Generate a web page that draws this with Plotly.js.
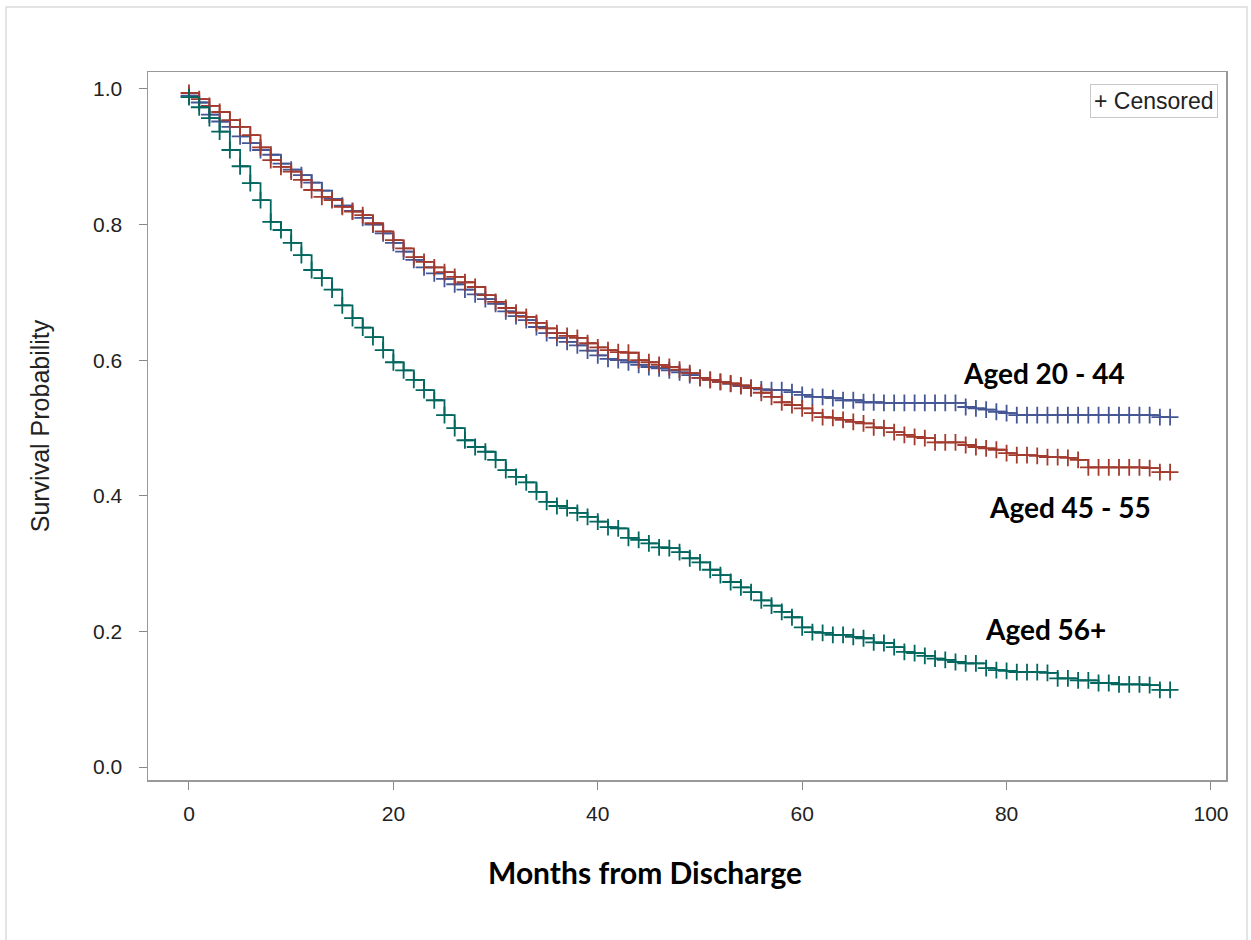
<!DOCTYPE html>
<html>
<head>
<meta charset="utf-8">
<script src="https://cdn.plot.ly/plotly-3.0.1.min.js"></script>
<style>html,body{margin:0;padding:0;background:#fff;}#chart{width:1251px;height:940px;}</style>
</head>
<body>
<div id="chart"></div>
<script>
// Months from discharge (step times)
const months = [0,1,2,3,4,5,6,7,8,9,10,11,12,13,14,15,16,17,18,19,20,21,22,23,24,25,26,27,28,29,30,31,32,33,34,35,36,37,38,39,40,41,42,43,44,45,46,47,48,49,50,51,52,53,54,55,56,57,58,59,60,61,62,63,64,65,66,67,68,69,70,71,72,73,74,75,76,77,78,79,80,81,82,83,84,85,86,87,88,89,90,91,92,93,94,95,96];

const seriesNames = ["Aged 20 - 44", "Aged 45 - 55", "Aged 56+"];

const surv2044 = [0.99,0.98,0.962,0.952,0.944,0.93,0.92,0.91,0.903,0.89,0.881,0.873,0.862,0.85,0.838,0.828,0.82,0.81,0.80,0.787,0.773,0.76,0.748,0.737,0.728,0.72,0.712,0.704,0.697,0.69,0.683,0.672,0.665,0.659,0.649,0.64,0.633,0.627,0.622,0.614,0.607,0.602,0.60,0.597,0.593,0.59,0.588,0.585,0.582,0.578,0.574,0.571,0.568,0.565,0.562,0.559,0.557,0.556,0.556,0.553,0.549,0.546,0.546,0.544,0.541,0.541,0.538,0.538,0.537,0.537,0.537,0.537,0.537,0.537,0.537,0.537,0.531,0.529,0.527,0.524,0.522,0.519,0.519,0.519,0.519,0.519,0.519,0.519,0.519,0.519,0.519,0.519,0.519,0.519,0.519,0.516,0.516];

const surv4555 = [0.994,0.985,0.975,0.966,0.954,0.944,0.932,0.914,0.895,0.885,0.878,0.866,0.851,0.841,0.836,0.826,0.819,0.814,0.802,0.79,0.777,0.765,0.752,0.745,0.737,0.73,0.723,0.715,0.708,0.696,0.686,0.677,0.67,0.664,0.655,0.647,0.64,0.636,0.633,0.625,0.619,0.615,0.612,0.611,0.60,0.597,0.593,0.59,0.586,0.581,0.574,0.571,0.568,0.566,0.563,0.559,0.552,0.546,0.538,0.534,0.529,0.522,0.516,0.515,0.512,0.509,0.507,0.501,0.50,0.494,0.49,0.487,0.485,0.479,0.479,0.479,0.475,0.472,0.47,0.468,0.463,0.46,0.46,0.459,0.457,0.457,0.456,0.453,0.442,0.442,0.442,0.442,0.442,0.442,0.441,0.435,0.435];

const surv56 = [0.988,0.973,0.957,0.937,0.91,0.886,0.861,0.836,0.804,0.792,0.773,0.755,0.733,0.721,0.704,0.681,0.662,0.648,0.634,0.615,0.597,0.585,0.571,0.556,0.541,0.519,0.50,0.482,0.472,0.465,0.453,0.438,0.428,0.42,0.406,0.391,0.385,0.382,0.375,0.369,0.362,0.354,0.352,0.338,0.335,0.33,0.324,0.323,0.317,0.308,0.302,0.291,0.283,0.273,0.265,0.258,0.246,0.238,0.229,0.221,0.206,0.199,0.198,0.195,0.195,0.192,0.19,0.184,0.183,0.177,0.17,0.168,0.164,0.16,0.158,0.155,0.153,0.153,0.146,0.143,0.142,0.14,0.14,0.14,0.139,0.131,0.131,0.128,0.128,0.124,0.124,0.122,0.122,0.122,0.121,0.114,0.114];

const xTicks = [0,20,40,60,80,100];
const yTicks = [0,0.2,0.4,0.6,0.8,1.0];
const yTickLabels = ["0.0","0.2","0.4","0.6","0.8","1.0"];
const xTitle = "Months from Discharge";
const yTitle = "Survival Probability";
const legendText = "+ Censored";

const colors = ["#445694", "#A23A2E", "#01665E"];
const survList = [surv2044, surv4555, surv56];

const sansFont = "Liberation Sans, Arial, sans-serif";
const boldFont = "Lato, Open Sans, sans-serif";

const traces = survList.map((s, i) => ({
  x: months, y: s, type: "scatter", mode: "lines+markers",
  name: seriesNames[i],
  line: {shape: "hv", color: colors[i], width: 1.8},
  marker: {symbol: "cross-thin", size: 12, line: {color: colors[i], width: 1.8}, color: colors[i]},
  hoverinfo: "skip", showlegend: false
}));

const labelPos = [[83.7, 0.581], [86.2, 0.383], [83.8, 0.204]];
const annotations = seriesNames.map((n, i) => ({
  x: labelPos[i][0], y: labelPos[i][1], xref: "x", yref: "y",
  text: "<b>" + n + "</b>", showarrow: false,
  font: {family: boldFont, size: 28, color: "#000"}
}));
annotations.push({
  xref: "paper", yref: "paper", x: 0.9926, y: 0.9833, xanchor: "right", yanchor: "top",
  text: legendText, showarrow: false,
  font: {family: sansFont, size: 23, color: "#222"},
  bordercolor: "#c8c8c8", borderwidth: 1, borderpad: 3, bgcolor: "#fff"
});
annotations.push({
  xref: "paper", yref: "paper", x: 0.461, y: -0.13, xanchor: "center", yanchor: "middle",
  text: "<b>" + xTitle + "</b>", showarrow: false,
  font: {family: boldFont, size: 30, color: "#000"}
});

const layout = {
  width: 1251, height: 940,
  margin: {l: 148, r: 25, t: 72, b: 160},
  paper_bgcolor: "#fff", plot_bgcolor: "#fff",
  font: {family: sansFont, color: "#222"},
  xaxis: {
    range: [-4.01, 101.47], tickvals: xTicks, ticktext: xTicks.map(String),
    ticks: "outside", ticklen: 8, tickcolor: "#888", tickwidth: 1,
    showline: true, linecolor: "#999", linewidth: 1.5, mirror: true,
    showgrid: false, zeroline: false, ticklabelstandoff: 6,
    tickfont: {family: sansFont, size: 21, color: "#222"}
  },
  yaxis: {
    range: [-0.019, 1.025], tickvals: yTicks, ticktext: yTickLabels,
    ticks: "outside", ticklen: 8, tickcolor: "#888", tickwidth: 1,
    showline: true, linecolor: "#999", linewidth: 1.5, mirror: true,
    showgrid: false, zeroline: false, ticklabelstandoff: 12,
    tickfont: {family: sansFont, size: 21, color: "#222"},
    title: {text: yTitle, font: {family: sansFont, size: 25, color: "#222"}, standoff: 36}
  },
  annotations: annotations,
  shapes: [{
    type: "rect", xref: "paper", yref: "paper",
    x0: -0.1317, x1: 1.0195, y0: -0.25, y1: 1.0918,
    line: {color: "#dcdcdc", width: 1.5}, layer: "below"
  }]
};

Plotly.newPlot("chart", traces, layout, {staticPlot: true, displayModeBar: false});
</script>
</body>
</html>
